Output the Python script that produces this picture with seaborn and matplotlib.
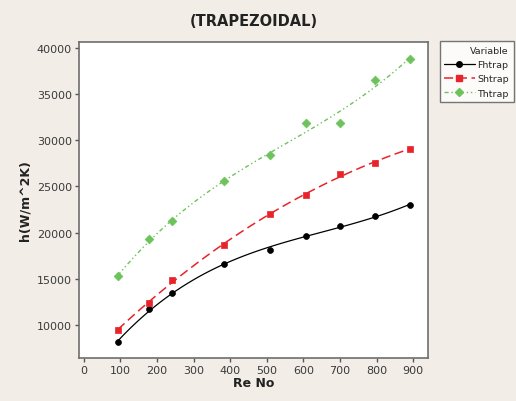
import matplotlib
matplotlib.use("Agg")
import matplotlib.pyplot as plt
import seaborn as sns
import numpy as np
import pandas as pd
from matplotlib.lines import Line2D

re_no = [93, 179, 241, 384, 509, 606, 700, 797, 892]
fhtrap = [8100, 11700, 13400, 16600, 18150, 19650, 20700, 21750, 23000]
shtrap = [9450, 12400, 14850, 18650, 22000, 24100, 26300, 27550, 29100]
thtrap = [15250, 19250, 21250, 25550, 28350, 31900, 31880, 36550, 38800]
series_names = ["Fhtrap", "Shtrap", "Thtrap"]

sns.set_theme(style="white")
plt.rcParams['font.family'] = ['DejaVu Sans']

bg = "#f2eee7"
fig = plt.figure(figsize=(5.16, 4.02), dpi=100, facecolor=bg)
ax = fig.add_axes([0.153, 0.107, 0.676, 0.786])
ax.set_facecolor("white")

df = pd.DataFrame({"Re": re_no, "Fhtrap": fhtrap, "Shtrap": shtrap, "Thtrap": thtrap})

styles = {
    "Fhtrap": dict(color="black", marker="o", ls="-", ms=18, lw=0.9, dashes=None),
    "Shtrap": dict(color="#e8232a", marker="s", ls="--", ms=22, lw=1.1, dashes=(6, 3)),
    "Thtrap": dict(color="#6cc35a", marker="D", ls="-.", ms=20, lw=1.0, dashes=(3, 2, 1, 2, 1, 2)),
}

for name in series_names:
    st = styles[name]
    sns.regplot(data=df, x="Re", y=name, order=3, ci=None, scatter=False, ax=ax,
                truncate=True,
                line_kws=dict(color=st["color"], lw=st["lw"], ls=st["ls"]))
    if st["dashes"] is not None:
        ax.lines[-1].set_dashes(st["dashes"])
    sns.scatterplot(data=df, x="Re", y=name, marker=st["marker"], color=st["color"],
                    s=st["ms"], edgecolor=st["color"], linewidth=0.5, ax=ax, zorder=5)

ax.set_xlim(-13, 940)
ax.set_ylim(6400, 40650)
ax.set_xticks(range(0, 1000, 100))
ax.set_yticks(range(10000, 40001, 5000))
for s in ax.spines.values():
    s.set_color("#6e6e6e")
    s.set_linewidth(1.2)
ax.tick_params(axis="both", direction="out", length=3, width=1, color="#555555",
               labelsize=8, labelcolor="#3a3a3a", pad=2, left=True, bottom=True)

ax.set_xlabel("Re No", fontsize=9, fontweight="bold", color="#222222", labelpad=1)
ax.set_ylabel("h(W/m^2K)", fontsize=9, fontweight="bold", color="#222222", labelpad=4)
ax.set_title("(TRAPEZOIDAL)", fontsize=10.5, fontweight="bold", color="#222222", pad=12)

handles = []
for name in series_names:
    st = styles[name]
    h = Line2D([0], [0], color=st["color"], marker=st["marker"], ls=st["ls"], lw=st["lw"],
               markersize=4)
    if st["dashes"] is not None:
        h.set_dashes(st["dashes"])
    handles.append(h)
leg = fig.legend(handles, series_names, title="Variable", loc="upper left",
                 bbox_to_anchor=(0.852, 0.895), fontsize=6.8, title_fontsize=6.8,
                 frameon=True, fancybox=False, handlelength=3.2, borderpad=0.5,
                 labelspacing=0.55, handletextpad=0.3, borderaxespad=0)
leg.get_frame().set_edgecolor("#555555")
leg.get_frame().set_linewidth(1.0)
leg.get_frame().set_facecolor("white")
leg._legend_box.align = "right"

fig.savefig("out.png", dpi=100, facecolor=bg)
